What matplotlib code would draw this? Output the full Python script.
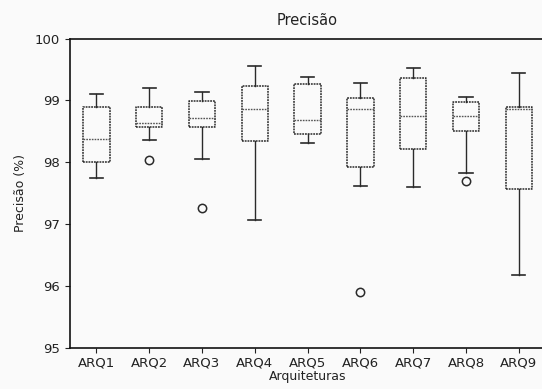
import matplotlib
matplotlib.use("Agg")
import matplotlib.pyplot as plt

categories = ["ARQ1", "ARQ2", "ARQ3", "ARQ4", "ARQ5", "ARQ6", "ARQ7", "ARQ8", "ARQ9"]
whis_hi = [99.11, 99.20, 99.13, 99.56, 99.38, 99.28, 99.52, 99.05, 99.45]
q3      = [98.89, 98.89, 98.99, 99.24, 99.26, 99.04, 99.36, 98.98, 98.90]
median  = [98.38, 98.64, 98.72, 98.86, 98.68, 98.86, 98.74, 98.75, 98.86]
q1      = [98.00, 98.57, 98.57, 98.34, 98.45, 97.93, 98.22, 98.50, 97.56]
whis_lo = [97.74, 98.36, 98.05, 97.06, 98.31, 97.62, 97.60, 97.83, 96.17]
fliers  = [[], [98.04], [97.26], [], [], [95.90], [], [97.70], []]

stats = []
for i, name in enumerate(categories):
    stats.append(dict(label=name, whishi=whis_hi[i], q3=q3[i], med=median[i],
                      q1=q1[i], whislo=whis_lo[i], fliers=fliers[i]))

fig = plt.figure(figsize=(5.42, 3.89), dpi=100, facecolor="#fafafa")
ax = fig.add_axes([0.129, 0.106, 0.877, 0.795])
ax.set_facecolor("#fafafa")

lc = "#2a2a2a"
ax.bxp(stats, widths=0.5,
       boxprops=dict(color=lc, linewidth=1.1, linestyle=(0, (1.2, 0.6))),
       medianprops=dict(color="#555555", linewidth=1.0, linestyle=(0, (1.2, 0.8))),
       whiskerprops=dict(color=lc, linewidth=1.0),
       capprops=dict(color=lc, linewidth=1.2),
       flierprops=dict(marker="o", markerfacecolor="none", markeredgecolor=lc,
                       markersize=6, markeredgewidth=1.1))

ax.set_ylim(95, 100)
ax.set_yticks([95, 96, 97, 98, 99, 100])
ax.tick_params(labelsize=9.5, colors="#222222")
ax.tick_params(axis="x", pad=2.5)
for s in ax.spines.values():
    s.set_color("#111111")
    s.set_linewidth(1.2)
ax.set_title("Precisão", fontsize=10.5, color="#222222", pad=10)
ax.set_xlabel("Arquiteturas", fontsize=9, color="#222222", labelpad=1)
ax.set_ylabel("Precisão (%)", fontsize=9, color="#222222", labelpad=6)

fig.savefig("out.png", dpi=100, facecolor=fig.get_facecolor())
